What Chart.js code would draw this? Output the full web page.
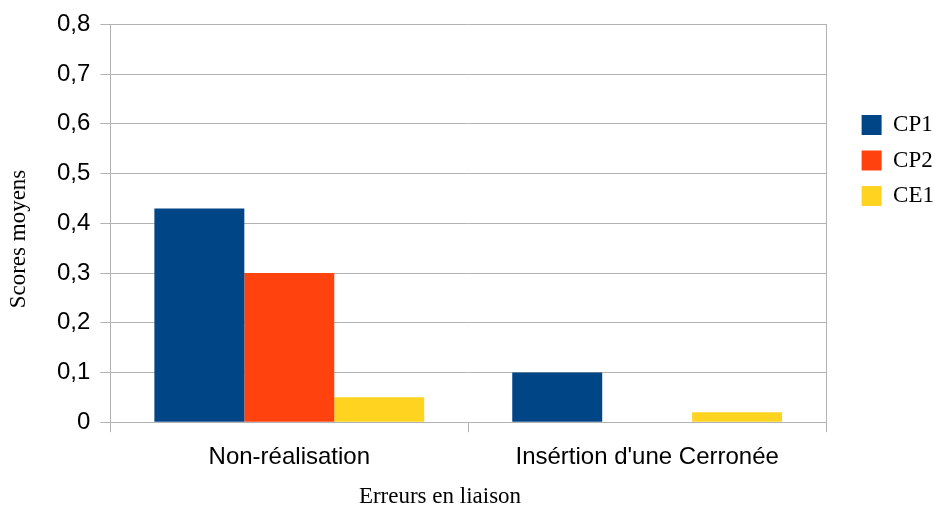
<!DOCTYPE html>
<html>
<head>
<meta charset="utf-8">
<script src="https://cdn.jsdelivr.net/npm/chart.js@4/dist/chart.umd.min.js"></script>
<style>
  html, body { margin: 0; padding: 0; background: #fff; }
  #wrap { width: 935px; height: 509px; }
</style>
</head>
<body>
<div id="wrap"><canvas id="chart"></canvas></div>
<script>
const categories = ["Non-réalisation", "Insértion d'une Cerronée"];
const cp1 = [0.43, 0.10];
const cp2 = [0.30, 0];
const ce1 = [0.05, 0.02];
const seriesNames = ["CP1", "CP2", "CE1"];
const colors = ["#004586", "#ff420e", "#ffd320"];
const xTitle = "Erreurs en liaison";
const yTitle = "Scores moyens";

const ctx = document.getElementById("chart").getContext("2d");

// axis titles sit off-centre in the original, so draw them by hand
const axisTitles = {
  id: "axisTitles",
  afterDraw(chart) {
    const c = chart.ctx;
    c.save();
    c.font = "23px 'Liberation Serif'";
    c.fillStyle = "#000";
    c.textAlign = "center";
    c.textBaseline = "middle";
    c.fillText(xTitle, 440, 497);
    c.translate(19, 239);
    c.rotate(-Math.PI / 2);
    c.fillText(yTitle, 0, 0);
    c.restore();
  }
};

const data = {
  labels: categories,
  datasets: [
    { label: seriesNames[0], data: cp1, backgroundColor: colors[0] },
    { label: seriesNames[1], data: cp2, backgroundColor: colors[1] },
    { label: seriesNames[2], data: ce1, backgroundColor: colors[2] }
  ]
};

const options = {
  responsive: true,
  maintainAspectRatio: false,
  animation: false,
  layout: { padding: { top: 6, left: 47, right: -9, bottom: 26 } },
  datasets: {
    bar: { barPercentage: 1, categoryPercentage: 0.754 }
  },
  plugins: {
    tooltip: { enabled: false },
    legend: {
      position: "right",
      align: "start",
      title: {
        display: true,
        text: " ",
        font: { size: 10 },
        padding: { top: 83, bottom: 0 }
      },
      labels: {
        font: { family: "Liberation Serif", size: 23 },
        color: "#000",
        boxWidth: 20,
        boxHeight: 20,
        padding: 12.5
      }
    }
  },
  scales: {
    x: {
      grid: { drawOnChartArea: false, tickLength: 10, color: "#b3b3b3" },
      border: { color: "#b3b3b3" },
      ticks: { font: { family: "Liberation Sans", size: 24 }, color: "#000", padding: 11 }
    },
    y: {
      min: 0,
      max: 0.8,
      ticks: {
        stepSize: 0.1,
        font: { family: "Liberation Sans", size: 24 },
        color: "#000",
        padding: 10,
        callback: v => String(Math.round(v * 10) / 10).replace(".", ",")
      },
      grid: { color: "#b3b3b3", tickLength: 10 },
      border: { color: "#b3b3b3" }
    },
    yRight: {
      position: "right",
      min: 0,
      max: 0.8,
      ticks: { display: false },
      grid: { display: false },
      border: { display: true, color: "#b3b3b3" },
      afterFit: scale => { scale.width = 23; }
    }
  }
};

new Chart(ctx, { type: "bar", data: data, options: options, plugins: [axisTitles] });
</script>
</body>
</html>
